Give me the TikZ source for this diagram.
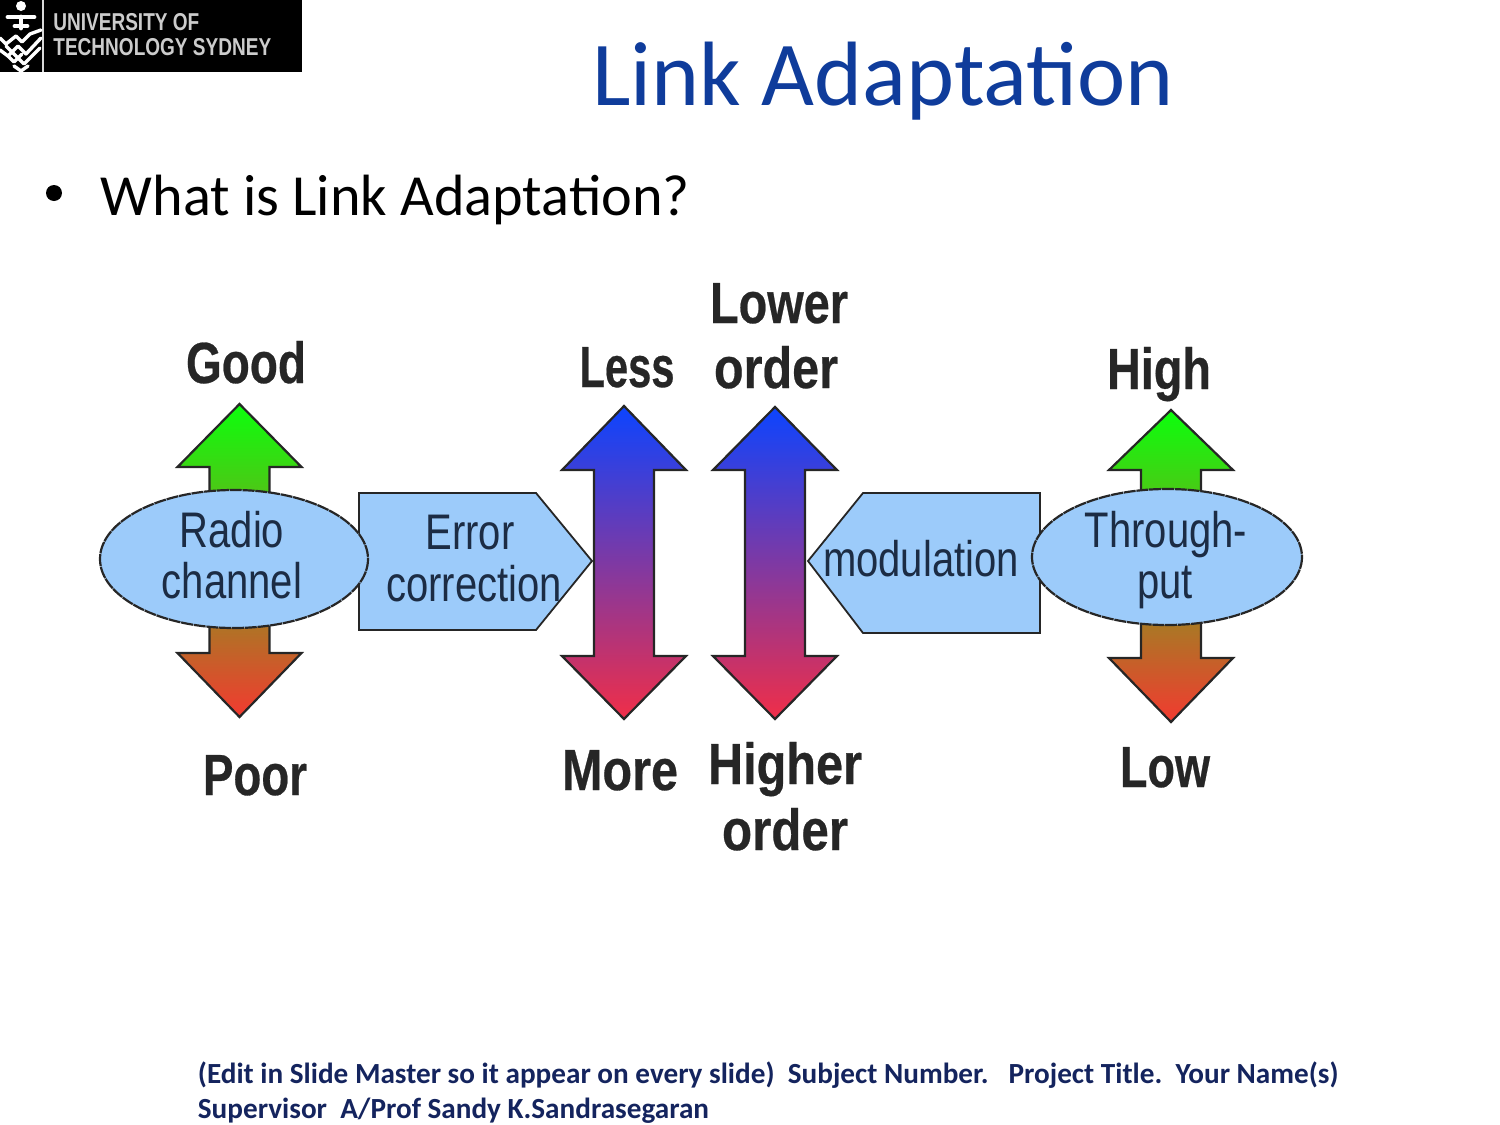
\documentclass[tikz,border=0pt]{standalone}
\usepackage{graphicx}
\usepackage{fontspec}
\setmainfont{Carlito}
\newfontfamily\lab[FakeBold=0.5]{Liberation Sans}
\newfontfamily\inlab[FakeStretch=0.8]{Liberation Sans}
\newfontfamily\logofont[FakeStretch=0.78]{Liberation Sans}
\usetikzlibrary{shapes.geometric}
\definecolor{titleblue}{HTML}{0F3C9B}
\definecolor{footnavy}{HTML}{14245E}
\definecolor{panel}{HTML}{9CCBFA}
\definecolor{inktext}{HTML}{1C2C44}
\definecolor{topgreen}{HTML}{0CFF0C}
\definecolor{botred}{HTML}{F23A30}
\definecolor{topblue}{HTML}{0C44FF}
\definecolor{botcrim}{HTML}{F02E48}
\tikzset{
  gr/.style={draw=black!85,line width=1.1pt,line join=miter,shade,top color=topgreen,bottom color=botred},
  bl/.style={draw=black!85,line width=1.1pt,line join=miter,shade,top color=topblue,bottom color=botcrim},
  bx/.style={draw=black!85,line width=0.9pt,fill=panel},
  el/.style={draw=black!85,line width=1.1pt,fill=panel,dash pattern=on 6pt off 0.4pt},
  blk/.style={font=\lab\bfseries\fontsize{29}{29}\selectfont,text=black!85,anchor=base,inner sep=0pt},
  ins/.style={font=\inlab\fontsize{25}{25}\selectfont,text=inktext,anchor=base,inner sep=0pt},
  lg/.style={font=\logofont\bfseries\fontsize{12.2}{12.2}\selectfont,text=black!20,anchor=base west,inner sep=0pt},
  emb/.style={draw=white,line width=1.7pt,line cap=round,line join=round},
}
\newcommand{\fitw}[2]{\resizebox{#1pt}{\height}{#2}}
\newcommand{\dblarrow}[6]{% style, centre x, top, head base, lower head base, tip
  \path[#1] (#2,#3) -- (#2+62,#4) -- (#2+30,#4) -- (#2+30,#5) -- (#2+62,#5) -- (#2,#6)
     -- (#2-62,#5) -- (#2-30,#5) -- (#2-30,#4) -- (#2-62,#4) -- cycle;}
\begin{document}
\begin{tikzpicture}[x=0.5pt,y=-0.5pt]
\useasboundingbox (0,0) rectangle (1500,1125);
% logo
\fill[black] (0,0) rectangle (302,72);
\fill[white!85!black] (41.5,0) rectangle (44,72);
\fill[white] (21,6) circle[radius=5];
\draw[emb,line width=2.4pt] (8,17) -- (34,17) (21,17) -- (21,28) (15,26) -- (27,26);
\draw[emb] (0,38) -- (6,44) -- (16,36) -- (22,42) -- (30,34) -- (41,30);
\draw[emb] (0,50) -- (8,56) -- (18,46) -- (26,54) -- (41,38);
\draw[emb] (6,46) -- (16,56) -- (24,64) -- (34,54) -- (40,48);
\draw[emb] (8,56) -- (14,62) -- (22,54);
\draw[emb] (14,66) -- (21,71) -- (28,66);
\node[lg] (logoa) at (53,30) {UNIVERSITY OF};
\node[lg] (logob) at (53,55) {TECHNOLOGY SYDNEY};
% title and bullet
\node[font=\fontsize{45.7}{45.7}\selectfont,text=titleblue,anchor=base west,inner sep=0pt] (title) at (592,105) {Link Adaptation};
\fill[black] (54,193) circle[radius=8] node (dot) {};
\node[font=\fontsize{29.1}{29.1}\selectfont,text=black,anchor=base west,inner sep=0pt] (q) at (100.5,215) {What is Link Adaptation?};
% double arrows
\dblarrow{gr}{239.5}{404}{467}{653}{717}
\dblarrow{bl}{624}{406}{470}{656}{719}
\dblarrow{bl}{775}{407}{470}{656}{719}
\dblarrow{gr}{1171}{410}{470}{658}{722}
% pentagon boxes
\path[bx] (359,493) -- (536,493) -- (592,561) -- (536,630) -- (359,630) -- cycle;
\path[bx] (808,561) -- (863,493) -- (1040,493) -- (1040,633) -- (863,633) -- cycle;
% ellipses
\path[el] (234,559) ellipse[x radius=134,y radius=69];
\path[el] (1167,557) ellipse[x radius=135,y radius=68];
% inner labels
\node[ins] (radio) at (232,547) {Radio};
\node[ins] (chan) at (232,598) {channel};
\node[ins] (err) at (470,549) {Error};
\node[ins] (corr) at (474,601) {correction};
\node[ins] (mod) at (921,576) {modulation};
\node[ins] (thr) at (1166,547) {Through-};
\node[ins] (put) at (1165,598) {put};
% outer labels
\node[blk] (good) at (246,383) {\fitw{60}{Good}};
\node[blk] (poor) at (255,795) {\fitw{52}{Poor}};
\node[blk] (less) at (627,387) {\fitw{47.5}{Less}};
\node[blk] (more) at (620,790) {\fitw{58}{More}};
\node[blk] (lower) at (779,323) {\fitw{69}{Lower}};
\node[blk] (ordera) at (776,388) {\fitw{62}{order}};
\node[blk] (higher) at (785,784) {\fitw{77}{Higher}};
\node[blk] (orderb) at (785,850) {\fitw{63}{order}};
\node[blk] (high) at (1159,389) {\fitw{52}{High}};
\node[blk] (low) at (1165,787) {\fitw{45}{Low}};
% footer
\node[font=\bfseries\fontsize{14.6}{14.6}\selectfont,text=footnavy,anchor=base west,inner sep=0pt] (fa) at (197.5,1083) {(Edit in Slide Master so it appear on every slide)\ \ Subject Number.\ \ \ Project Title.\ \ Your Name(s)};
\node[font=\bfseries\fontsize{14.6}{14.6}\selectfont,text=footnavy,anchor=base west,inner sep=0pt] (fb) at (197.5,1118) {Supervisor\ \ A/Prof Sandy K.Sandrasegaran};
\end{tikzpicture}
\end{document}
